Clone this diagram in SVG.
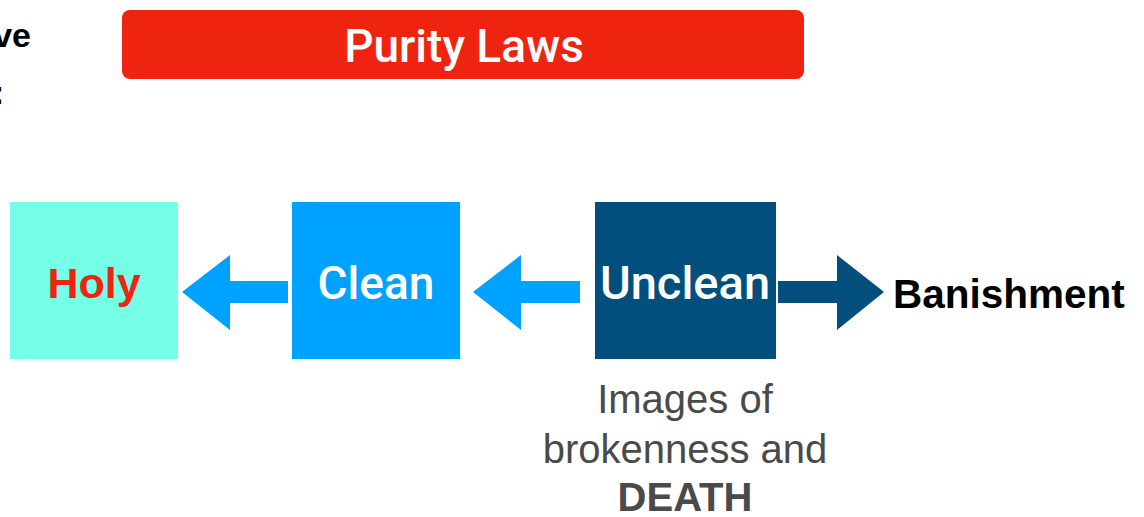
<svg xmlns="http://www.w3.org/2000/svg" width="1144" height="517" viewBox="0 0 1144 517">
<style>
text{font-family:"Liberation Sans",Arial,sans-serif}
.w{fill:#ffffff;text-anchor:middle;font-family:Roboto,"Liberation Sans",sans-serif;font-weight:500}
.cap{fill:#4a4a4a;text-anchor:middle;font-size:40px}
</style>
<rect width="1144" height="517" fill="#ffffff"/>
<text x="31" y="47" font-size="34" font-weight="bold" fill="#000" text-anchor="end">ve</text>
<text x="-7" y="104" font-size="34" font-weight="bold" fill="#000">:</text>
<g id="purity-laws">
<rect x="122" y="10" width="682" height="69" rx="8" fill="#EF2410"/>
<text class="w" x="464" y="62" font-size="46">Purity Laws</text>
</g>
<g id="holy">
<rect x="10" y="202" width="168" height="157" fill="#74FFE6"/>
<text x="94" y="298" font-size="43" font-weight="bold" fill="#EF2410" text-anchor="middle">Holy</text>
</g>
<g id="clean">
<rect x="292" y="202" width="168" height="157" fill="#00A2FF"/>
<text class="w" x="376" y="299" font-size="46">Clean</text>
</g>
<g id="unclean">
<rect x="595" y="202" width="181" height="157" fill="#024F7E"/>
<text class="w" x="685" y="299" font-size="47">Unclean</text>
</g>
<g id="banishment">
<text x="893" y="308" font-size="40.5" font-weight="bold" fill="#000">Banishment</text>
</g>
<g id="caption">
<text class="cap" x="685" y="413">Images of</text>
<text class="cap" x="685" y="463">brokenness and</text>
<text class="cap" x="685" y="511" font-weight="bold">DEATH</text>
</g>
<g id="connectors">
<polygon points="182,292 230,255 230,281 288,281 288,303 230,303 230,330" fill="#00A2FF"/>
<polygon points="473,292 521,255 521,281 580,281 580,303 521,303 521,330" fill="#00A2FF"/>
<polygon points="778,281 837,281 837,255 884,292 837,330 837,303 778,303" fill="#024F7E"/>
</g>
</svg>
